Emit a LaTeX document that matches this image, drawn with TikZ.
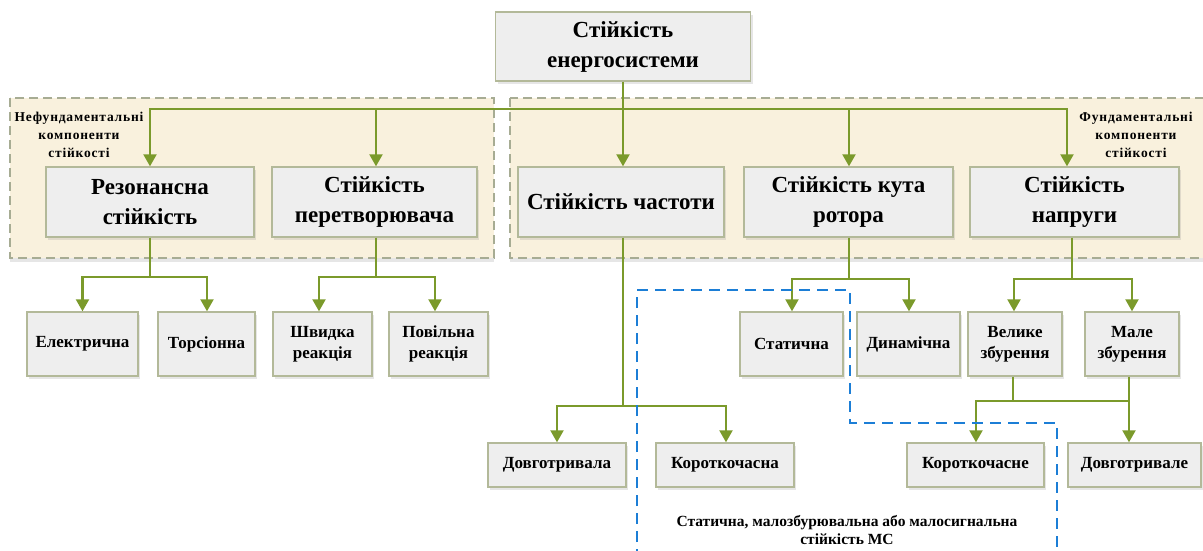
\documentclass[tikz,border=0pt]{standalone}
\usepackage{fontspec}
\setmainfont{Liberation Serif}
\usetikzlibrary{arrows.meta,shadows,patterns}
\definecolor{arrowc}{HTML}{7B9A2B}
\definecolor{boxfill}{HTML}{EEEEEE}
\definecolor{boxline}{HTML}{B3B999}
\definecolor{regfill}{HTML}{F9F1DD}
\definecolor{regline}{HTML}{A7AC93}
\definecolor{bluedash}{HTML}{1C7ED6}
\begin{document}
\begin{tikzpicture}[x=1pt,y=-1pt,
  box/.style={draw=boxline, line width=1.4pt, fill=boxfill,
    drop shadow={shadow xshift=2pt, shadow yshift=-3pt, opacity=0.22, fill=black!45},
    align=center, inner sep=0pt},
  big/.style={box, font={\fontsize{23}{30}\selectfont\bfseries}, minimum height=70pt},
  mid/.style={box, font={\fontsize{17}{21}\selectfont\bfseries}, minimum height=64pt},
  low/.style={box, font={\fontsize{17}{21}\selectfont\bfseries}, minimum height=44pt},
  region/.style={draw=regline, line width=1.6pt, dash pattern=on 9pt off 5pt, fill=regfill,
    drop shadow={shadow xshift=0pt, shadow yshift=-4pt, opacity=0.2, fill=black!50}},
  reglabel/.style={align=center, inner sep=0pt,
    font={\fontsize{13.5}{18}\selectfont\bfseries\addfontfeature{LetterSpace=6}}},
  conn/.style={draw=arrowc, line width=2.2pt},
  arr/.style={conn, -{Triangle[width=13pt,length=12pt]}},
  bluebox/.style={draw=bluedash, line width=1.8pt, dash pattern=on 11pt off 7pt},
  note/.style={align=center, inner sep=0pt, font={\fontsize{15.5}{18}\selectfont\bfseries}}
]
\useasboundingbox (0,0) rectangle (1203,551);

% regions
\draw[region] (10,98) rectangle (494,258);
\draw[region] (510,98) rectangle (1215,258);
\node[reglabel] (nfl) at (79,134.5) {Нефундаментальні\\компоненти\\стійкості};
\node[reglabel] (fl) at (1136,134.5) {Фундаментальні\\компоненти\\стійкості};

% level 1
\node[big, minimum width=255pt, minimum height=69pt] (top) at (623,46.5) {Стійкість\\енергосистеми};

% level 2
\node[big, minimum width=208pt] (res) at (150,202) {Резонансна\\стійкість};
\node[big, minimum width=205pt] (conv) at (374.5,202) {Стійкість\\перетворювача};
\node[big, minimum width=206pt] (freq) at (621,202) {Стійкість частоти};
\node[big, minimum width=209pt] (rotor) at (848.5,202) {Стійкість кута\\ротора};
\node[big, minimum width=209pt] (volt) at (1074.5,202) {Стійкість\\напруги};

% level 3
\node[mid, minimum width=111pt] (el) at (82.5,344) {Електрична};
\node[mid, minimum width=97pt] (tor) at (206.5,344) {Торсіонна};
\node[mid, minimum width=99pt] (shv) at (322.5,344) {Швидка\\реакція};
\node[mid, minimum width=99pt] (pov) at (438.5,344) {Повільна\\реакція};
\node[mid, minimum width=103pt] (stat) at (791.5,344) {Статична};
\node[mid, minimum width=103pt] (dyn) at (908.5,344) {Динамічна};
\node[mid, minimum width=94pt] (vel) at (1015,344) {Велике\\збурення};
\node[mid, minimum width=94pt] (mal) at (1132,344) {Мале\\збурення};

% level 4
\node[low, minimum width=138pt] (dov1) at (557,465) {Довготривала};
\node[low, minimum width=138pt] (kor1) at (725,465) {Короткочасна};
\node[low, minimum width=137pt] (kor2) at (975.5,465) {Короткочасне};
\node[low, minimum width=133pt] (dov2) at (1134.5,465) {Довготривале};

% connectors from top
\coordinate (hub) at (623,109);
\draw[conn] (top.south) -- (hub);
\draw[arr] (hub) -| (res.north);
\draw[arr] (hub) -| ([xshift=1.5pt]conv.north);
\draw[arr] (hub) -- (hub |- freq.north);
\draw[arr] (hub) -| ([xshift=0.5pt]rotor.north);
\draw[arr] (hub) -| ([xshift=-7.5pt]volt.north);

% resonance
\coordinate (rh) at (150,277);
\draw[conn] (res.south) -- (rh);
\draw[arr] (rh) -| (el.north);
\draw[arr] (rh) -| ([xshift=0.5pt]tor.north);
% converter
\coordinate (ch) at (376,277);
\draw[conn] ([xshift=1.5pt]conv.south) -- (ch);
\draw[arr] (ch) -| ([xshift=-3.5pt]shv.north);
\draw[arr] (ch) -| ([xshift=-3.5pt]pov.north);
% rotor
\coordinate (rot) at (849,279);
\draw[conn] ([xshift=0.5pt]rotor.south) -- (rot);
\draw[arr] (rot) -| ([xshift=0.5pt]stat.north);
\draw[arr] (rot) -| ([xshift=0.5pt]dyn.north);
% voltage
\coordinate (vh) at (1072,279);
\draw[conn] ([xshift=-2.5pt]volt.south) -- (vh);
\draw[arr] (vh) -| ([xshift=-1pt]vel.north);
\draw[arr] (vh) -| (mal.north);
% frequency
\coordinate (fh) at (623,406);
\draw[conn] ([xshift=2pt]freq.south) -- (fh);
\draw[arr] (fh) -| (dov1.north);
\draw[arr] (fh) -| ([xshift=1pt]kor1.north);
% disturbance
\coordinate (jb) at (1129,401);
\draw[conn] ([xshift=-2pt]vel.south) |- (jb);
\draw[conn] ([xshift=-3pt]mal.south) -- (jb);
\draw[arr] (jb) -| ([xshift=0.5pt]kor2.north);
\draw[arr] (jb) -- (jb |- dov2.north);

% small-signal region
\coordinate (b1) at (637,560);
\coordinate (b2) at (637,290);
\coordinate (b3) at (850,290);
\coordinate (b4) at (850,423);
\coordinate (b5) at (1057,423);
\coordinate (b6) at (1057,560);
\draw[bluebox] (b1) -- (b2) -- (b3) -- (b4) -- (b5) -- (b6);
\node[note] (ms) at (847,530) {Статична, малозбурювальна або малосигнальна\\стійкість МС};
\end{tikzpicture}
\end{document}
